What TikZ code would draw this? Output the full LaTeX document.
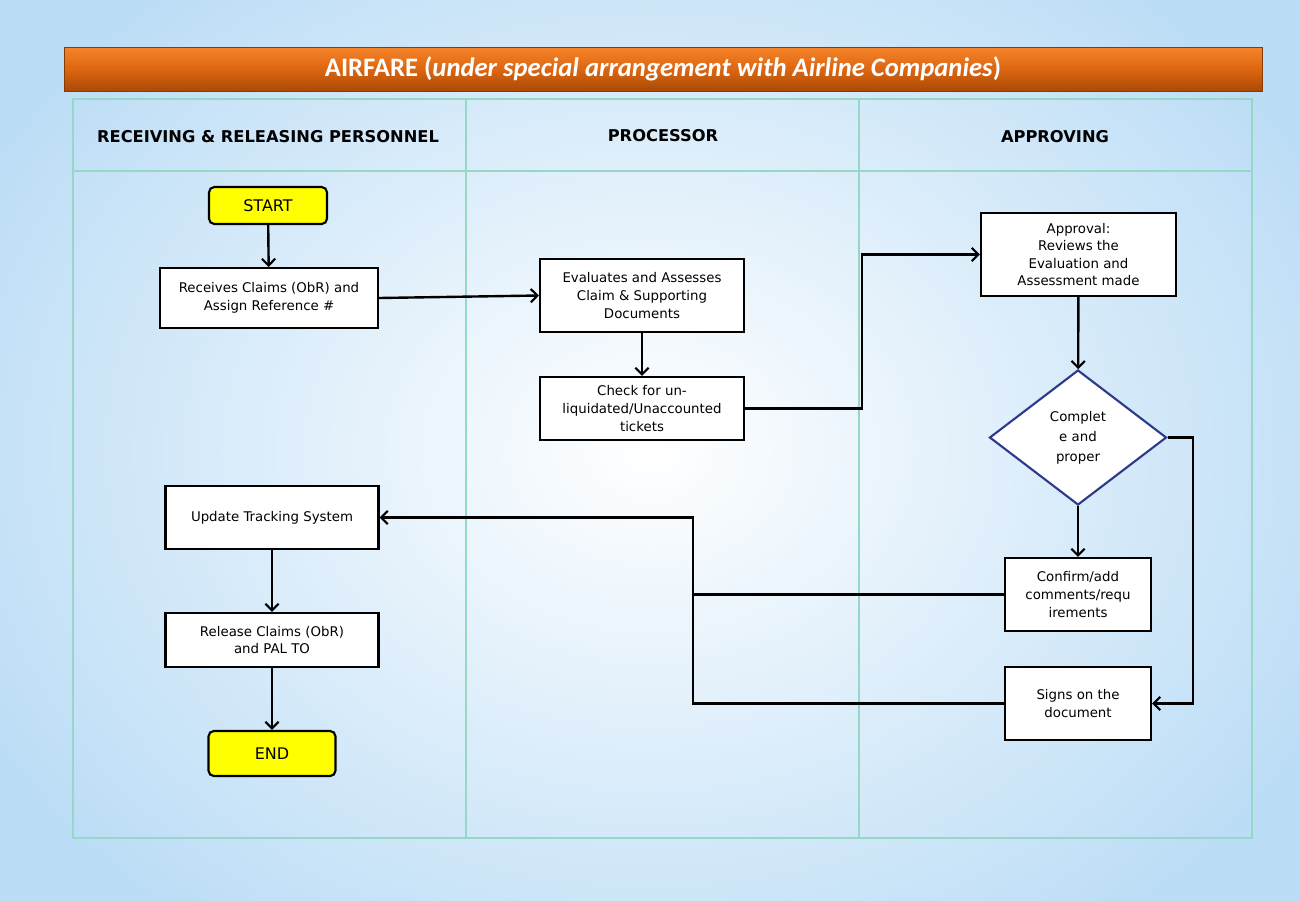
\documentclass[tikz,border=0pt]{standalone}
\usepackage{fontspec}
\setmainfont{DejaVu Sans}
\newfontfamily\titlefont{Carlito}
\usetikzlibrary{arrows.meta,shapes.geometric}
\definecolor{bgblue}{HTML}{BCDDF6}
\definecolor{grid}{HTML}{96D8C6}
\definecolor{orTop}{HTML}{F5842A}
\definecolor{orMid}{HTML}{DD6610}
\definecolor{orBot}{HTML}{A94A06}
\definecolor{dia}{HTML}{2E3A8C}
\definecolor{startyel}{HTML}{FFFF00}
\tikzset{
  sz/.style 2 args={minimum width=#1*0.75pt, minimum height=#2*0.75pt},
  box/.style={draw=black, line width=1.6pt, fill=white, align=center, inner sep=0pt,
    font=\fontsize{10}{13.2}\selectfont},
  term/.style={box, fill=startyel, rounded corners=4pt, font=\fontsize{12}{14}\selectfont},
  decis/.style={diamond, draw=dia, line width=1.6pt, fill=white, align=center, inner sep=0pt,
    font=\fontsize{10}{15}\selectfont},
  hdr/.style={font=\bfseries\fontsize{12.2}{14}\selectfont},
  conn/.style={line width=1.8pt, draw=black},
  arr/.style={conn, -{Straight Barb[length=5pt,width=10pt,line width=1.6pt]}},
}
\begin{document}
\begin{tikzpicture}[x=0.75pt,y=-0.75pt]
\useasboundingbox (0,0) rectangle (1300,900);
% background
\fill[bgblue] (0,0) rectangle (1300,900);
\shade[inner color=white, outer color=bgblue] (-100,-150) rectangle (1400,1050);
% title bar
\shade[top color=orTop, bottom color=orBot, middle color=orMid, draw=orBot!80!black, line width=0.75pt]
  (64,47) rectangle (1262,91);
\node[text=white, font=\titlefont\bfseries\fontsize{20}{22}\selectfont] (title) at (663,69)
  {AIRFARE (\textit{under special arrangement with Airline Companies})};
% table
\draw[grid, line width=1.5pt] (73,99) rectangle (1252,838);
\draw[grid, line width=1.5pt] (73,171) -- (1252,171);
\draw[grid, line width=0.9pt] (466,99) -- (466,838);
\draw[grid, line width=0.9pt] (859,99) -- (859,838);
\node[hdr] (h1) at (268,137) {RECEIVING \& RELEASING PERSONNEL};
\node[hdr] (h2) at (663,136) {PROCESSOR};
\node[hdr] (h3) at (1055,137) {APPROVING};
% nodes
\node[term, sz={118}{37}] (start) at (268,205.5) {START};
\node[box, sz={218}{60}] (recv) at (269,298) {Receives Claims (ObR) and\\Assign Reference \#};
\node[box, sz={204}{73}] (eval) at (642,295.5) {Evaluates and Assesses\\Claim \& Supporting\\Documents};
\node[box, sz={204}{63}] (check) at (642,408.5) {Check for un-\\liquidated/Unaccounted\\tickets};
\node[box, sz={195}{83}] (appr) at (1078.5,254.5) {Approval:\\Reviews the\\Evaluation and\\Assessment made};
\node[decis, minimum width=132.75pt, minimum height=101.25pt] (dec) at (1078,437.5) {Complet\\e and\\proper};
\node[box, sz={146}{73}] (conf) at (1078,594.5) {Confirm/add\\comments/requ\\irements};
\node[box, sz={146}{73}] (sign) at (1078,703.5) {Signs on the\\document};
\node[box, sz={213}{63}] (upd) at (272,517.5) {Update Tracking System};
\node[box, sz={213}{54}] (rel) at (272,640) {Release Claims (ObR)\\and PAL TO};
\node[term, sz={127}{45}] (end) at (272,753.5) {END};
% connectors
\coordinate (c1) at (862,408.5);
\coordinate (c2) at (862,254.5);
\coordinate (d1) at (1193,437.5);
\coordinate (d2) at (1193,703.5);
\coordinate (j1) at (693,703.5);
\coordinate (j2) at (693,594.5);
\coordinate (j3) at (693,517.5);
\draw[arr] (start) -- (recv);
\draw[arr] (recv.east) -- (eval.west);
\draw[arr] (eval) -- (check);
\draw[arr] (check.east) -- (c1) -- (c2) -- (appr.west);
\draw[arr] (appr) -- (dec);
\draw[arr] (dec) -- (conf);
\draw[arr] (dec.east) -- (d1) -- (d2) -- (sign.east);
\draw[conn] (conf.west) -- (j2);
\draw[arr] (sign.west) -- (j1) -- (j3) -- (upd.east);
\draw[arr] (upd) -- (rel);
\draw[arr] (rel) -- (end);
\end{tikzpicture}
\end{document}
